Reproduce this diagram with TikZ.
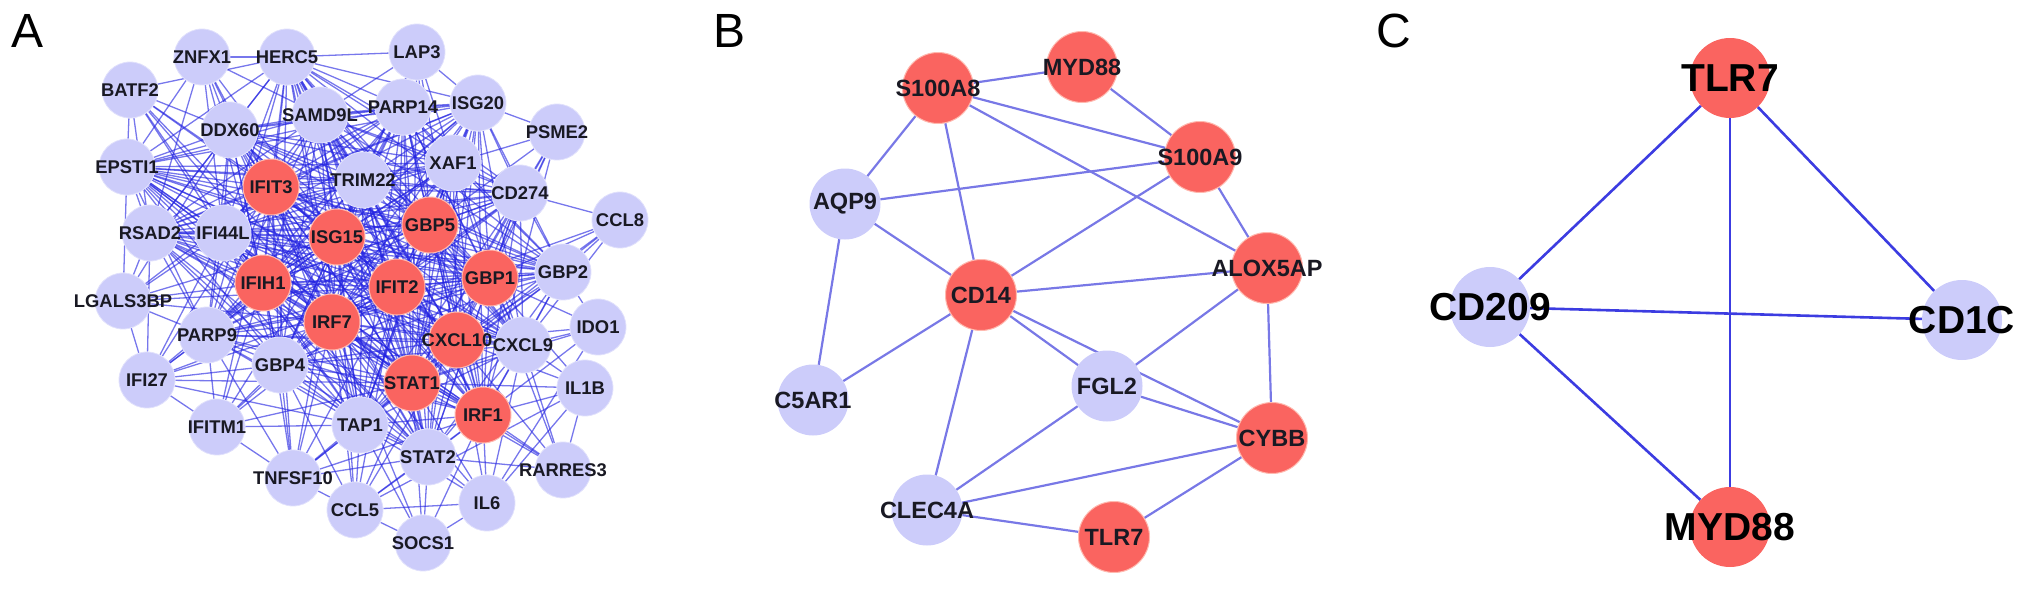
\documentclass[tikz,border=0pt]{standalone}
\usepackage{fontspec}
\setmainfont{Liberation Sans}
\usetikzlibrary{backgrounds}
\definecolor{lav}{RGB}{204,204,250}
\definecolor{lavrim}{RGB}{225,225,252}
\definecolor{salmon}{RGB}{250,100,96}
\definecolor{salmonrim}{RGB}{255,185,175}
\definecolor{edgeA}{RGB}{35,35,225}
\definecolor{edgeB}{RGB}{120,120,230}
\definecolor{edgeC}{RGB}{60,60,225}
\definecolor{lbl}{RGB}{25,25,35}
\newcommand\genelabel[1]{\makebox[0pt]{#1}}
\begin{document}
\begin{tikzpicture}[x=1pt,y=-1pt,
  gA/.style={circle,fill=lav,draw=lavrim,line width=0.8pt,minimum size=56pt,inner sep=0pt,text=lbl,font=\fontsize{18.4}{20}\selectfont\bfseries},
  hA/.style={gA,fill=salmon,draw=salmonrim,line width=1pt},
  gB/.style={circle,fill=lav,minimum size=71pt,inner sep=0pt,text=lbl,font=\fontsize{23.5}{25}\selectfont\bfseries},
  hB/.style={gB,fill=salmon,draw=salmonrim,line width=1pt},
  gC/.style={circle,fill=lav,minimum size=80pt,inner sep=0pt,text=black,font=\fontsize{39}{41}\selectfont\bfseries},
  hC/.style={gC,fill=salmon},
  eA/.style={draw=edgeA,line width=1.3pt,opacity=0.62},
  eB/.style={draw=edgeB,line width=2.2pt},
  eC/.style={draw=edgeC,line width=2.6pt},
  panel/.style={font=\fontsize{48}{50}\selectfont,inner sep=0pt,text=black}
]
\useasboundingbox (0,0) rectangle (2032,589);

% panel letters
\node[panel] (labA) at (28,31) {A};
\node[panel] (labB) at (729,31) {B};
\node[panel] (labC) at (1394,31) {C};

% ---------------- Panel A nodes ----------------
\foreach \n/\x/\y in {ZNFX1/202/57, HERC5/287/57, LAP3/417/52, BATF2/130/90,
  DDX60/230/130, SAMD9L/320/115, PARP14/403/107, ISG20/478/103, PSME2/557/132,
  EPSTI1/127/167, TRIM22/363/180, XAF1/453/163, CD274/520/193, CCL8/620/220,
  RSAD2/150/233, IFI44L/223/233, GBP2/563/272, LGALS3BP/123/301, PARP9/207/335,
  CXCL9/523/345, IDO1/598/327, GBP4/280/365, IFI27/147/380, IL1B/585/388,
  TAP1/360/425, IFITM1/217/427, STAT2/428/457, RARRES3/563/470, TNFSF10/293/478,
  IL6/487/503, CCL5/355/510, SOCS1/423/543}
  \node[gA] (\n) at (\x,\y) {\genelabel{\n}};
\foreach \n/\x/\y in {IFIT3/271/187, GBP5/430/225, ISG15/337/237, GBP1/490/278,
  IFIT2/397/287, IFIH1/263/283, IRF7/332/322, CXCL10/457/340, STAT1/412/383,
  IRF1/483/415}
  \node[hA] (\n) at (\x,\y) {\genelabel{\n}};

% ---------------- Panel A edges ----------------
\def\corelist{IFIT3,ISG15,GBP5,IFIH1,IFIT2,GBP1,IRF7,CXCL10,STAT1,IRF1,TRIM22,IFI44L,DDX60,SAMD9L,PARP14,XAF1,GBP4,PARP9,TAP1,STAT2,CXCL9,RSAD2,EPSTI1,HERC5,GBP2,ISG20,CD274}
\begin{scope}[on background layer]
  \foreach \a [count=\i] in \corelist {
    \foreach \b [count=\j] in \corelist {
      \ifnum\j>\i \draw[eA] (\a) -- (\b); \fi
    }
  }
  \foreach \p/\lst in {
    ZNFX1/{IFIT3,ISG15,IFIH1,IRF7,DDX60,SAMD9L,HERC5,EPSTI1,IFI44L,RSAD2},
    BATF2/{IFIT3,ISG15,IFIH1,IRF7,STAT1,DDX60,EPSTI1,RSAD2,IFI44L,HERC5},
    LAP3/{HERC5,PARP14,ISG20,SAMD9L,TRIM22,ISG15,GBP5,STAT1,IRF1,XAF1},
    PSME2/{ISG20,CD274,XAF1,GBP5,GBP1,STAT1,IRF1,CXCL10},
    CCL8/{CD274,GBP2,GBP1,CXCL10,CXCL9,STAT1,IRF7},
    IDO1/{CXCL9,GBP2,GBP1,CXCL10,STAT1,IRF1,IL6},
    IL1B/{CXCL9,IRF1,CXCL10,STAT1,IL6,RARRES3,CCL5,GBP1},
    RARRES3/{IRF1,STAT1,STAT2,CXCL9,CXCL10,IRF7,GBP1},
    IL6/{IRF1,STAT1,STAT2,CCL5,SOCS1,CXCL10,CXCL9,TAP1,IRF7},
    SOCS1/{STAT1,STAT2,IRF1,CCL5,IRF7,TAP1},
    CCL5/{STAT1,STAT2,TAP1,IRF7,IRF1,CXCL10,TNFSF10,GBP4,IFIT2,ISG15},
    TNFSF10/{IRF7,IFIT2,STAT1,GBP4,TAP1,ISG15,IFIH1,IFIT3,IRF1,CXCL10,IFITM1,STAT2,PARP9},
    IFITM1/{IRF7,IFIH1,GBP4,PARP9,ISG15,IFIT3,STAT1,IFIT2,TAP1,IFI27},
    IFI27/{IRF7,IFIH1,GBP4,PARP9,ISG15,IFIT3,IFIT2,STAT1,LGALS3BP,RSAD2,IFI44L,TAP1},
    LGALS3BP/{RSAD2,IFI44L,IFIH1,IFIT3,ISG15,IRF7,PARP9,EPSTI1,IFIT2,DDX60}}
    \foreach \q in \lst { \draw[eA] (\p) -- (\q); };
\end{scope}

% ---------------- Panel B ----------------
\foreach \n/\x/\y in {AQP9/845/204, C5AR1/813/400, FGL2/1107/386, CLEC4A/927/510}
  \node[gB] (b\n) at (\x,\y) {\genelabel{\n}};
\foreach \n/\x/\y in {S100A8/938/88, MYD88/1082/67, S100A9/1200/157,
  ALOX5AP/1267/268, CD14/981/295, CYBB/1272/438, TLR7/1114/537}
  \node[hB] (b\n) at (\x,\y) {\genelabel{\n}};
\begin{scope}[on background layer]
  \foreach \a/\b in {S100A8/MYD88, S100A8/S100A9, S100A8/ALOX5AP, S100A8/AQP9,
    S100A8/CD14, MYD88/S100A9, S100A9/AQP9, S100A9/CD14, S100A9/ALOX5AP,
    AQP9/CD14, AQP9/C5AR1, CD14/ALOX5AP, CD14/C5AR1, CD14/CLEC4A, CD14/FGL2,
    CD14/CYBB, FGL2/CYBB, FGL2/ALOX5AP, FGL2/CLEC4A, ALOX5AP/CYBB,
    CYBB/CLEC4A, CYBB/TLR7, CLEC4A/TLR7}
    \draw[eB] (b\a) -- (b\b);
\end{scope}

% ---------------- Panel C ----------------
\node[hC] (cTLR7) at (1730,78) {\genelabel{TLR7}};
\node[gC] (cCD209) at (1490,307) {\genelabel{CD209}};
\node[gC] (cCD1C) at (1962,320) {\genelabel{CD1C}};
\node[hC] (cMYD88) at (1730,527) {\genelabel{MYD88}};
\begin{scope}[on background layer]
  \foreach \a/\b in {TLR7/CD209, TLR7/CD1C, TLR7/MYD88, CD209/CD1C, CD209/MYD88}
    \draw[eC] (c\a) -- (c\b);
\end{scope}
\end{tikzpicture}
\end{document}
